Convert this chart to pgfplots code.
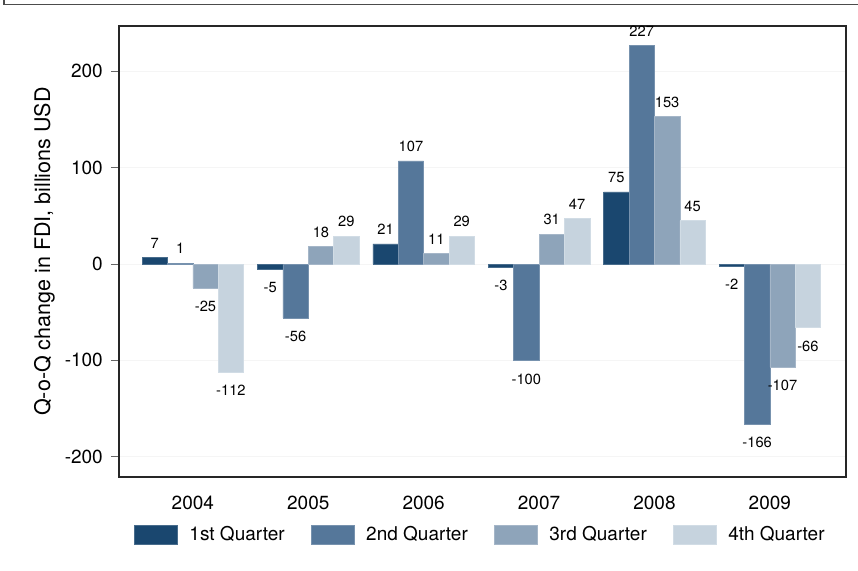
\documentclass[border=0pt]{standalone}
\usepackage{fontspec}
\setmainfont{TeX Gyre Heros}
\usepackage{pgfplots}
\pgfplotsset{compat=1.18}
\definecolor{q1}{HTML}{1A476F}
\definecolor{q2}{HTML}{55779A}
\definecolor{q3}{HTML}{8EA4BA}
\definecolor{q4}{HTML}{C6D3DE}
\begin{document}
\begin{tikzpicture}[x=1pt,y=1pt]
\path[use as bounding box] (0,0) rectangle (858,570);
\draw[line width=1.1pt, black!70] (4,570) -- (4,565.5) -- (858,565.5);
\begin{axis}[
  at={(119pt,93pt)}, anchor=south west,
  scale only axis, width=727pt, height=451pt,
  xmin=-0.64, xmax=5.66, ymin=-221, ymax=247,
  ybar, bar width=0.22,
  xtick={0,1,2,3,4,5},
  xticklabels={2004,2005,2006,2007,2008,2009},
  ytick={-200,-100,0,100,200},
  tick pos=left,
  tick align=outside,
  major tick length=8pt,
  xtick style={draw=none},
  ytick style={black!60, line width=0.8pt},
  axis line style={black!85, line width=1.2pt},
  ymajorgrids,
  grid style={black!4, line width=0.6pt},
  /pgf/number format/assume math mode=true,
  ticklabel style={font=\fontsize{19}{20}\selectfont},
  xticklabel style={inner sep=0pt, yshift=-10.5pt},
  yticklabel style={inner sep=0pt, xshift=-8pt},
  ylabel={Q-o-Q change in FDI, billions USD},
  ylabel style={font=\fontsize{21.5}{22}\selectfont, at={(axis description cs:-0.1025,0.5)}, anchor=center},
  visualization depends on={y \as \yval},
  nodes near coords,
  nodes near coords align={vertical},
  every node near coord/.append style={font=\fontsize{14.7}{15}\selectfont, inner xsep=0pt, inner ysep=9pt, text=black,
    yshift={ifthenelse(\yval<0,-4,0)}},
  legend columns=4,
  legend style={at={(axis description cs:0.0206,-0.1275)}, anchor=west, draw=none, fill=none,
    inner sep=0pt, outer sep=0pt, font=\fontsize{19}{20}\selectfont,
    nodes={inner sep=0pt, anchor=west},
    /tikz/every odd column/.append style={column sep=12pt},
    /tikz/every even column/.append style={column sep=26pt}},
  legend image code/.code={\draw[#1] (0pt,-9.5pt) rectangle (43pt,9.5pt);},
]
\addplot[fill=q1, draw=q1!80!white, line width=0.5pt, bar shift=-0.33] coordinates {(0,7) (1,-5) (2,21) (3,-3) (4,75) (5,-2)};
\addplot[fill=q2, draw=q2!80!white, line width=0.5pt, bar shift=-0.11] coordinates {(0,1) (1,-56) (2,107) (3,-100) (4,227) (5,-166)};
\addplot[fill=q3, draw=q3!80!white, line width=0.5pt, bar shift=0.11] coordinates {(0,-25) (1,18) (2,11) (3,31) (4,153) (5,-107)};
\addplot[fill=q4, draw=q4!80!white, line width=0.5pt, bar shift=0.33] coordinates {(0,-112) (1,29) (2,29) (3,47) (4,45) (5,-66)};
\legend{1st Quarter,2nd Quarter,3rd Quarter,4th Quarter}
\end{axis}
\end{tikzpicture}
\end{document}
